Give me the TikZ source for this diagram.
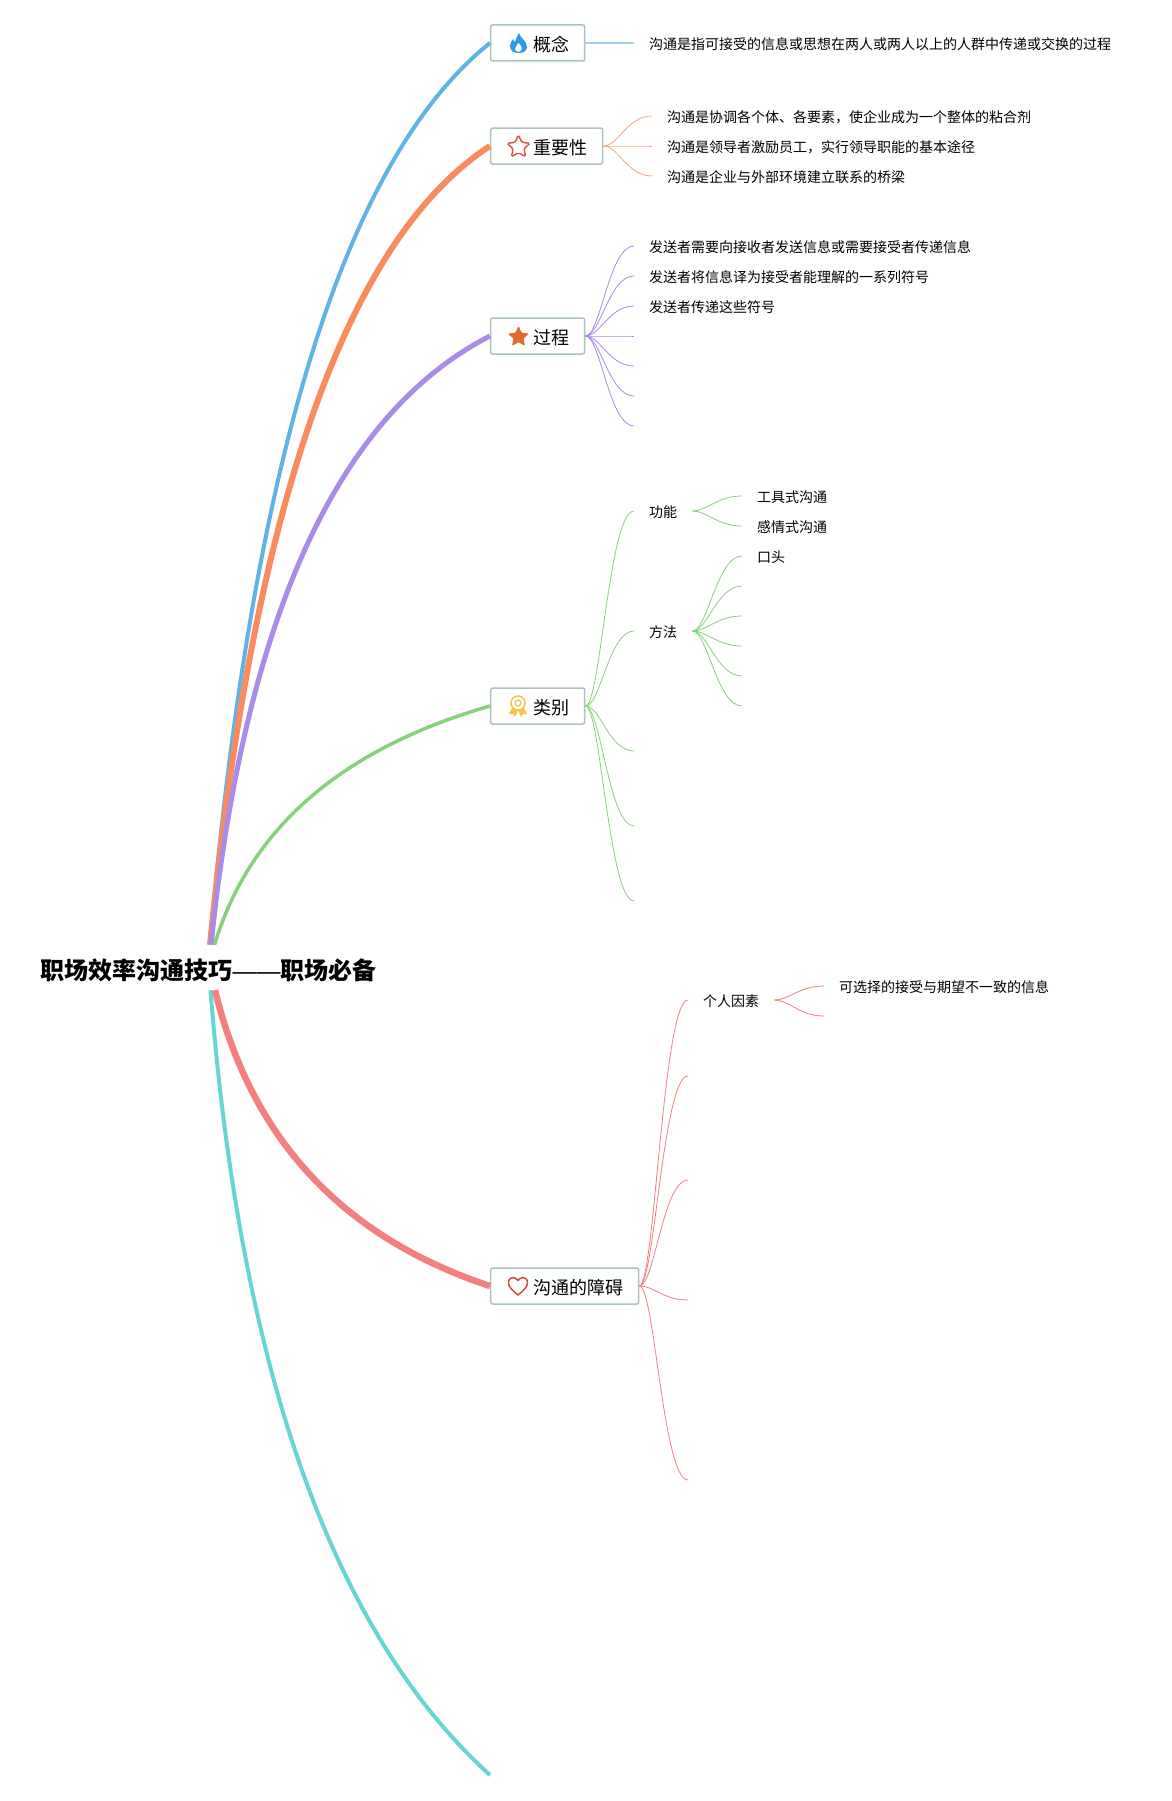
\documentclass[tikz,border=0pt]{standalone}
\usepackage{fontspec}
\setmainfont{Noto Sans CJK SC}
\newfontfamily\dashfont{Liberation Sans}
\usetikzlibrary{shapes.geometric}
\definecolor{cblue}{HTML}{5FB4E5}
\definecolor{corange}{HTML}{F98B5F}
\definecolor{cpurple}{HTML}{A98BE8}
\definecolor{cgreen}{HTML}{85D27A}
\definecolor{cred}{HTML}{F57F7F}
\definecolor{cteal}{HTML}{68D5D5}
\definecolor{cbox}{HTML}{A9C4BC}
\definecolor{icblue}{HTML}{2A9BE6}
\definecolor{icred}{HTML}{D9503E}
\definecolor{icorange}{HTML}{E2682F}
\definecolor{icyellow}{HTML}{F6C445}
\definecolor{icheart}{HTML}{CC4B3A}
\tikzset{
  x=1pt,y=-1pt,
  box/.style={draw=cbox,line width=1.5pt,rounded corners=2pt,fill=white,minimum height=36pt,inner xsep=0pt,inner ysep=0pt,text height=18.6pt,text depth=1.4pt,font=\fontsize{18}{18}\selectfont},
  leaf/.style={anchor=west,inner xsep=15pt,inner ysep=0pt,text height=14.6pt,text depth=1.4pt,font=\fontsize{14}{14}\selectfont},
  kid/.style={line width=.8pt},
  trunk/.style={line cap=butt}
}
\newcommand{\kidcurve}[3]{\draw[kid,#1] (#2) .. controls +(15,0) and +(-25,0) .. (#3);}
\begin{document}
\begin{tikzpicture}
\path[use as bounding box,fill=white] (0,0) rectangle (1171,1801);
% root
\node[inner sep=0pt,minimum height=50pt,minimum width=336pt,font=\fontsize{24}{24}\selectfont\bfseries] (root) at (208.5,970) {职场效率沟通技巧{\dashfont\mdseries ——}职场必备};
% first level
\node[box,minimum width=94pt] (gn) at (537.7,43) {\hspace*{28pt}概念};
\node[box,minimum width=112pt] (zy) at (546.7,146) {\hspace*{28pt}重要性};
\node[box,minimum width=94pt] (gc) at (537.7,336) {\hspace*{28pt}过程};
\node[box,minimum width=94pt] (lb) at (537.7,706) {\hspace*{28pt}类别};
\node[box,minimum width=148pt] (za) at (564.7,1286) {\hspace*{28pt}沟通的障碍};
\coordinate (tealend) at (490,1775);
% trunks
\draw[trunk,cblue,line width=4pt] ([xshift=1.5pt]root.north) .. controls +(42,-485) and +(-145,116) .. (gn.west);
\draw[trunk,corange,line width=6pt] ([xshift=1.5pt]root.north) .. controls +(43,-440) and +(-143,93) .. (zy.west);
\draw[trunk,cpurple,line width=5pt] ([xshift=2.5pt]root.north) .. controls +(34,-328) and +(-152,78) .. (gc.west);
\draw[trunk,cgreen,line width=3.5pt] ([xshift=6pt]root.north) .. controls +(35,-116) and +(-149,43) .. (lb.west);
\draw[trunk,cteal,line width=4pt] ([xshift=2pt,yshift=5pt]root.south) .. controls +(30,381) and +(-157,-142) .. (tealend);
\draw[trunk,cred,line width=6.5pt] ([xshift=6.5pt,yshift=5pt]root.south) .. controls +(36,148) and +(-148,-49) .. (za.west);
% leaves
\node[leaf] (gn1) at (634,43) {沟通是指可接受的信息或思想在两人或两人以上的人群中传递或交换的过程};
\draw[cblue!60,line width=1.5pt] (gn.east) -- (gn1.west);
\node[leaf] (zy1) at (652,116) {沟通是协调各个体、各要素，使企业成为一个整体的粘合剂};
\node[leaf] (zy2) at (652,146) {沟通是领导者激励员工，实行领导职能的基本途径};
\node[leaf] (zy3) at (652,176) {沟通是企业与外部环境建立联系的桥梁};
\kidcurve{corange!80}{zy.east}{zy1.west}
\kidcurve{corange!80}{zy.east}{zy2.west}
\kidcurve{corange!80}{zy.east}{zy3.west}
\node[leaf] (gc1) at (634,246) {发送者需要向接收者发送信息或需要接受者传递信息};
\node[leaf] (gc2) at (634,276) {发送者将信息译为接受者能理解的一系列符号};
\node[leaf] (gc3) at (634,306) {发送者传递这些符号};
\coordinate (gc4) at (634,336);
\coordinate (gc5) at (634,366);
\coordinate (gc6) at (634,396);
\coordinate (gc7) at (634,426);
\kidcurve{cpurple}{gc.east}{gc1.west}
\kidcurve{cpurple}{gc.east}{gc2.west}
\kidcurve{cpurple}{gc.east}{gc3.west}
\kidcurve{cpurple}{gc.east}{gc4}
\kidcurve{cpurple}{gc.east}{gc5}
\kidcurve{cpurple}{gc.east}{gc6}
\kidcurve{cpurple}{gc.east}{gc7}
\node[leaf] (lb1) at (634,511) {功能};
\node[leaf] (lb2) at (634,631) {方法};
\coordinate (lb3) at (634,751);
\coordinate (lb4) at (634,826);
\coordinate (lb5) at (634,901);
\kidcurve{cgreen}{lb.east}{lb1.west}
\kidcurve{cgreen}{lb.east}{lb2.west}
\kidcurve{cgreen}{lb.east}{lb3}
\kidcurve{cgreen}{lb.east}{lb4}
\kidcurve{cgreen}{lb.east}{lb5}
\node[leaf] (gn2a) at (742,496) {工具式沟通};
\node[leaf] (gn2b) at (742,526) {感情式沟通};
\kidcurve{cgreen}{lb1.east}{gn2a.west}
\kidcurve{cgreen}{lb1.east}{gn2b.west}
\node[leaf] (ff1) at (742,556) {口头};
\coordinate (ff2) at (742,586);
\coordinate (ff3) at (742,616);
\coordinate (ff4) at (742,646);
\coordinate (ff5) at (742,676);
\coordinate (ff6) at (742,706);
\kidcurve{cgreen}{lb2.east}{ff1.west}
\kidcurve{cgreen}{lb2.east}{ff2}
\kidcurve{cgreen}{lb2.east}{ff3}
\kidcurve{cgreen}{lb2.east}{ff4}
\kidcurve{cgreen}{lb2.east}{ff5}
\kidcurve{cgreen}{lb2.east}{ff6}
\node[leaf] (za1) at (688,1000) {个人因素};
\coordinate (za2) at (688,1076);
\coordinate (za3) at (688,1180);
\coordinate (za4) at (688,1300);
\coordinate (za5) at (688,1480);
\kidcurve{cred}{za.east}{za1.west}
\kidcurve{cred}{za.east}{za2}
\kidcurve{cred}{za.east}{za3}
\kidcurve{cred}{za.east}{za4}
\kidcurve{cred}{za.east}{za5}
\node[leaf] (gr1) at (824,986) {可选择的接受与期望不一致的信息};
\coordinate (gr2) at (824,1016);
\kidcurve{cred}{za1.east}{gr1.west}
\kidcurve{cred}{za1.east}{gr2}
% icons
\fill[even odd rule,fill=icblue] (519,33) .. controls (520,38) and (527,41) .. (527,47) .. controls (527,51) and (523,53) .. (518.5,53) .. controls (514,53) and (510,51) .. (510,46) .. controls (510,43) and (512,41) .. (513,39) .. controls (513.5,41) and (514.5,42) .. (515,42) .. controls (516,39) and (517,36) .. (519,33) -- cycle
(518.5,52) .. controls (516,52) and (515,50) .. (515,48.5) .. controls (515,46) and (518,45) .. (518.5,42.5) .. controls (520,45) and (522,46) .. (522,48.5) .. controls (522,50) and (521,52) .. (518.5,52) -- cycle;
\node[star,star points=5,star point ratio=2.1,draw=icred,line width=1.4pt,fill=white,rounded corners=1.5pt,minimum size=24pt,inner sep=0pt] (icstar) at (518.5,147) {};
\node[star,star points=5,star point ratio=2.1,fill=icorange,rounded corners=1pt,minimum size=22pt,inner sep=0pt] (icfull) at (518.5,337) {};
\fill[icyellow] (512,708) -- (509,714) -- (513,714) -- (515,717) -- (518,710) -- cycle (524,708) -- (527,714) -- (523,714) -- (521,717) -- (518,710) -- cycle;
\node[circle,draw=icyellow,line width=1.5pt,fill=white,minimum size=14pt,inner sep=0pt] (icmedal) at (518,703) {};
\node[circle,draw=icyellow,line width=1.2pt,minimum size=6pt,inner sep=0pt] (icmedal2) at (518,703) {};
\draw[icheart,line width=1.5pt,line join=round] (518,1295) .. controls (512,1290) and (508.5,1287) .. (508.5,1282.5) .. controls (508.5,1279) and (511,1277.5) .. (513,1277.5) .. controls (515,1277.5) and (517,1279) .. (518,1280.5) .. controls (519,1279) and (521,1277.5) .. (523,1277.5) .. controls (525,1277.5) and (527.5,1279) .. (527.5,1282.5) .. controls (527.5,1287) and (524,1290) .. (518,1295) -- cycle;
\end{tikzpicture}
\end{document}
